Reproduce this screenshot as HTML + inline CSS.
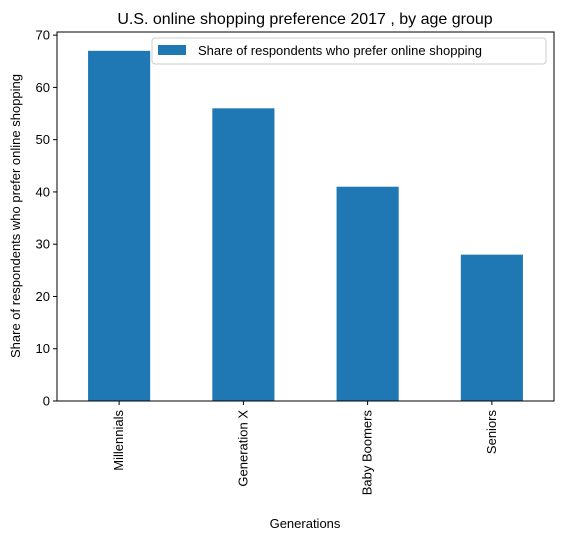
<!DOCTYPE html>
<html><head><meta charset="utf-8"><style>
body{margin:0;background:#fff;}
svg text{font-family:"Liberation Sans","DejaVu Sans",sans-serif;fill:#000;}
</style></head><body>
<svg id="chart" width="562" height="542" xmlns="http://www.w3.org/2000/svg">
<text x="305" y="24" font-size="16" text-anchor="middle">U.S. online shopping preference 2017 , by age group</text>
<g id="bars"></g>
<g id="yticks"></g>
<g id="xticks"></g>
<rect x="57" y="32" width="497" height="369" fill="none" stroke="#000" stroke-width="1"/>
<text transform="translate(20,216) rotate(-90)" font-size="13" text-anchor="middle">Share of respondents who prefer online shopping</text>
<text x="305" y="528" font-size="13" text-anchor="middle">Generations</text>
<g>
<rect x="152" y="38" width="394" height="26" rx="3" fill="#fff" stroke="#ccc"/>
<rect x="158" y="45" width="28" height="10" fill="#1f77b4"/>
<text x="198" y="55" font-size="13">Share of respondents who prefer online shopping</text>
</g>
</svg>
<script>
const categories=["Millennials","Generation X","Baby Boomers","Seniors"];
const values=[67,56,41,28];
const tickValues=[0,10,20,30,40,50,60,70];
const NS="http://www.w3.org/2000/svg";
const plotLeft=57,plotRight=554,plotBottom=401,ymax=70.6,plotTop=32;
function y(v){return plotBottom-(v/ymax)*(plotBottom-plotTop);}
const band=(plotRight-plotLeft)/categories.length;
function xc(i){return plotLeft+band*(i+0.5);}
const bw=band*0.5;
const bars=document.getElementById('bars'),yt=document.getElementById('yticks'),xt=document.getElementById('xticks');
function mk(t,a){const e=document.createElementNS(NS,t);for(const k in a)e.setAttribute(k,a[k]);return e;}
values.forEach((v,i)=>{
 const r=mk('rect',{x:xc(i)-bw/2,y:y(v),width:bw,height:plotBottom-y(v),fill:'#1f77b4'});
 
 
 bars.appendChild(r);
 const l=mk('line',{x1:xc(i),x2:xc(i),y1:plotBottom,y2:plotBottom+4,stroke:'#000'});
 
 
 xt.appendChild(l);
 const t=mk('text',{transform:`translate(${xc(i)+4},${plotBottom+9}) rotate(-90)`,'font-size':13,'text-anchor':'end'});
 
 
 t.textContent=categories[i];xt.appendChild(t);
});
tickValues.forEach(v=>{
 const l=mk('line',{x1:plotLeft-4,x2:plotLeft,y1:y(v),y2:y(v),stroke:'#000'});
 
 
 yt.appendChild(l);
 const t=mk('text',{x:plotLeft-7,y:y(v)+4.5,'font-size':13,'text-anchor':'end'});
 
 
 t.textContent=v;yt.appendChild(t);
});
</script>
</body></html>
